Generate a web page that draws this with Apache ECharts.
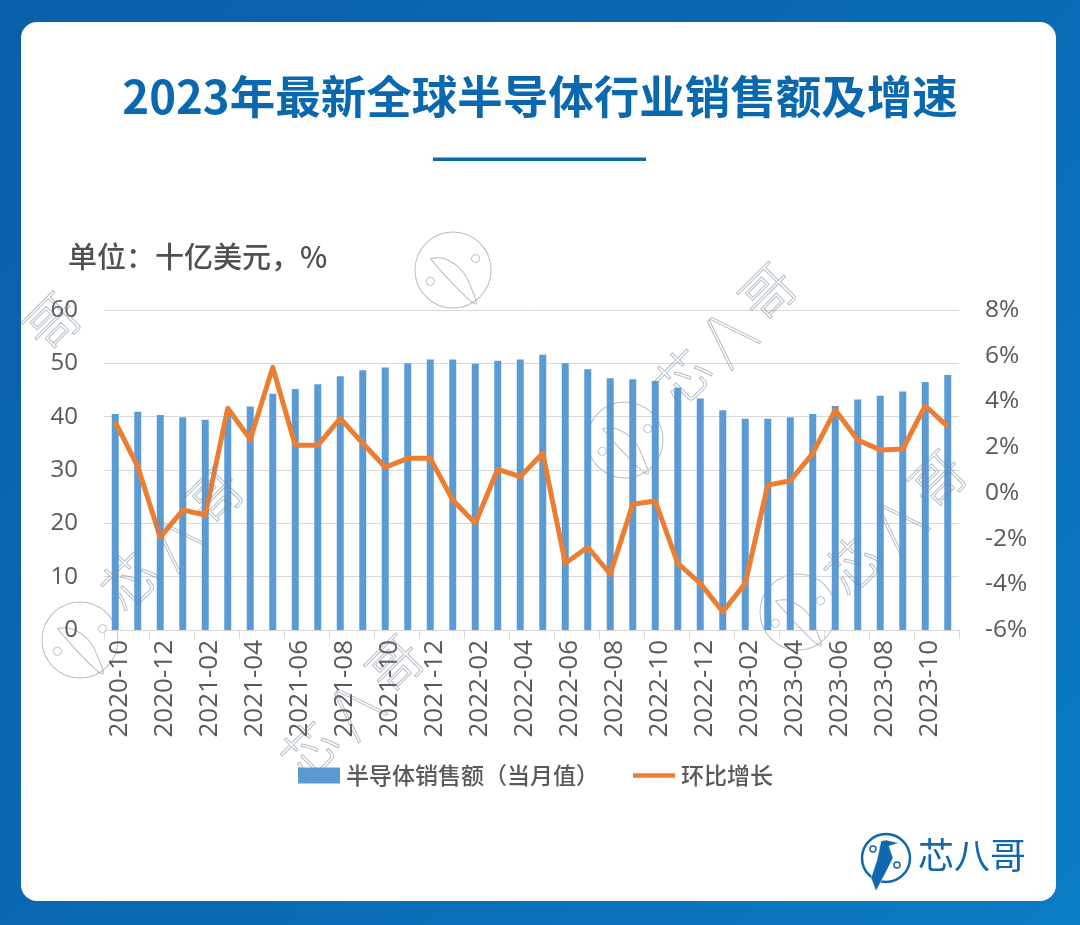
<!DOCTYPE html>
<html style="height: 100%">
<head>
	<meta charset="utf-8">
</head>
<body style="height: 100%; margin: 0">
<div id="container" style="width: 1080px; height: 925px"></div>
<script type="text/javascript" src="https://cdn.jsdelivr.net/npm/echarts@6/dist/echarts.min.js"></script>
<script type="text/javascript">
    var months = ['2020-10','2020-11','2020-12','2021-01','2021-02','2021-03','2021-04','2021-05','2021-06','2021-07',
        '2021-08','2021-09','2021-10','2021-11','2021-12','2022-01','2022-02','2022-03','2022-04','2022-05',
        '2022-06','2022-07','2022-08','2022-09','2022-10','2022-11','2022-12','2023-01','2023-02','2023-03',
        '2023-04','2023-05','2023-06','2023-07','2023-08','2023-09','2023-10','2023-11'];
    var sales = [40.5,40.9,40.3,39.9,39.4,40.8,41.9,44.3,45.2,46.1,
        47.6,48.7,49.2,50.0,50.7,50.7,49.9,50.5,50.7,51.6,
        50.0,48.9,47.2,47.0,46.7,45.4,43.4,41.2,39.6,39.6,
        39.9,40.5,42.0,43.2,43.9,44.7,46.5,47.8];
    var growth = [3.1,1.15,-1.95,-0.75,-0.97,3.7,2.34,5.49,2.08,2.08,
        3.26,2.17,1.12,1.51,1.51,-0.31,-1.33,1.03,0.71,1.73,
        -3.08,-2.38,-3.55,-0.5,-0.36,-3.08,-3.96,-5.2,-3.96,0.34,
        0.53,1.73,3.63,2.31,1.88,1.92,3.81,2.9];
    var salesName = '半导体销售额（当月值）';
    var growthName = '环比增长';
    var titleText = '2023年最新全球半导体行业销售额及增速';
    var unitText = '单位：十亿美元，%';
    var brandText = '芯八哥';

    var cjk = '"Noto Sans CJK SC", sans-serif';
    var num = '"Open Sans", "Noto Sans CJK SC", sans-serif';
    var markColor = 'rgba(120,135,150,0.55)';

    // faint round logo used in the watermark
    function sealMark(cx, cy) {
        return {
            type: 'group', x: cx, y: cy, rotation: Math.PI / 4, z: 50, silent: true,
            children: [
                {type: 'circle', shape: {cx: 0, cy: 0, r: 38}, style: {fill: 'none', stroke: markColor, lineWidth: 1}},
                {type: 'circle', shape: {cx: -24, cy: -8, r: 4}, style: {fill: 'none', stroke: markColor, lineWidth: 1}},
                {type: 'circle', shape: {cx: 24, cy: 8, r: 4}, style: {fill: 'none', stroke: markColor, lineWidth: 1}},
                {type: 'polyline', shape: {points: [[-8, -24], [2, -14], [6, 6], [0, 26], [-8, 40], [-10, 14], [-8, -24]], smooth: 0.4},
                    style: {fill: 'none', stroke: markColor, lineWidth: 1}}
            ]
        };
    }

    // outlined rotated brand text used in the watermark
    function textMark(cx, cy, label) {
        return {
            type: 'text', x: cx, y: cy, rotation: Math.PI / 4, z: 50, silent: true,
            style: {
                text: label || '芯 /\\ 哥', font: '300 54px ' + cjk, textAlign: 'center', textVerticalAlign: 'middle',
                fill: 'transparent', stroke: markColor, lineWidth: 1
            }
        };
    }

    var decorations = [
        {type: 'rect', z: -10, silent: true, shape: {x: 0, y: 0, width: 1080, height: 925},
            style: {fill: new echarts.graphic.LinearGradient(0, 0, 1, 1, [
                {offset: 0, color: '#0a5fa9'}, {offset: 0.6, color: '#0a6cb6'}, {offset: 1, color: '#0a7dc4'}
            ])}},
        {type: 'rect', z: -9, silent: true, shape: {x: 21, y: 22, width: 1035, height: 879, r: 16}, style: {fill: '#ffffff'}},
        {type: 'text', x: 540, y: 97, z: 5, style: {text: titleText, font: '700 45.5px ' + cjk, fill: '#0a68ae',
            textAlign: 'center', textVerticalAlign: 'middle'}},
        {type: 'rect', z: 5, silent: true, shape: {x: 433, y: 157.5, width: 213, height: 3.5}, style: {fill: '#0a68ae'}},
        {type: 'text', x: 68, y: 257, z: 5, style: {text: unitText, font: '500 29px ' + cjk, fill: '#505050',
            textAlign: 'left', textVerticalAlign: 'middle'}},
        // bottom right logo
        {type: 'circle', z: 5, silent: true, shape: {cx: 886, cy: 858, r: 24}, style: {fill: 'none', stroke: '#0f68ad', lineWidth: 2.5}},
        {type: 'polygon', z: 6, silent: true, shape: {points: [[881, 841], [886, 840], [899, 843], [889, 846], [893, 858], [886, 872], [876, 891], [871, 878], [877, 860]]},
            style: {fill: '#0f68ad', stroke: '#ffffff', lineWidth: 0.5}},
        {type: 'circle', z: 6, silent: true, shape: {cx: 873, cy: 849, r: 3}, style: {fill: '#ffffff', stroke: '#0f68ad', lineWidth: 1.5}},
        {type: 'circle', z: 6, silent: true, shape: {cx: 897, cy: 865, r: 3}, style: {fill: '#ffffff', stroke: '#0f68ad', lineWidth: 1.5}},
        {type: 'text', x: 972, y: 855, z: 5, style: {text: brandText, font: '400 36px ' + cjk, fill: '#0f68ad',
            textAlign: 'center', textVerticalAlign: 'middle'}},
        sealMark(453, 270), sealMark(625, 440), sealMark(798, 612), sealMark(80, 640),
        textMark(725, 335), textMark(895, 522), textMark(172, 538), textMark(352, 707), textMark(52, 322, '哥')
    ];

    var dom = document.getElementById("container");
    var myChart = echarts.init(dom);

    myChart.setOption({
        animation: false,
        graphic: decorations,
        grid: {left: 104, right: 121, top: 310, bottom: 295},
        legend: {
            left: 293, top: 759, itemWidth: 42, itemHeight: 16, itemGap: 34,
            textStyle: {fontFamily: cjk, fontSize: 23, fontWeight: 500, color: '#595959', padding: [0, 0, 0, 1]},
            data: [
                {name: salesName, icon: 'rect'},
                {name: growthName, icon: 'path://M0 0H45V5H0Z'}
            ]
        },
        xAxis: {
            type: 'category', data: months, boundaryGap: true,
            axisLine: {lineStyle: {color: '#d9d9d9', width: 1}},
            axisTick: {show: true, interval: 1, length: 9, lineStyle: {color: '#d9d9d9'}},
            axisLabel: {interval: 1, rotate: 90, margin: 10, verticalAlign: 'top', lineHeight: 8, fontFamily: num, fontSize: 26, color: '#595959'}
        },
        yAxis: [
            {
                type: 'value', min: 0, max: 60, interval: 10,
                axisLine: {show: false}, axisTick: {show: false},
                splitLine: {lineStyle: {color: '#d9d9d9', width: 1}},
                axisLabel: {margin: 26, fontFamily: num, fontSize: 24, color: '#595959'}
            },
            {
                type: 'value', min: -6, max: 8, interval: 2,
                axisLine: {show: false}, axisTick: {show: false}, splitLine: {show: false},
                axisLabel: {margin: 26, formatter: '{value}%', fontFamily: num, fontSize: 24.5, color: '#595959'}
            }
        ],
        series: [
            {name: salesName, type: 'bar', data: sales, barWidth: 7, itemStyle: {color: '#5b9bd5'}},
            {name: growthName, type: 'line', yAxisIndex: 1, data: growth, symbol: 'none', smooth: false,
                lineStyle: {color: '#ed7d31', width: 5, join: 'round'}, itemStyle: {color: '#ed7d31'}}
        ]
    });
</script>
</body>
</html>
